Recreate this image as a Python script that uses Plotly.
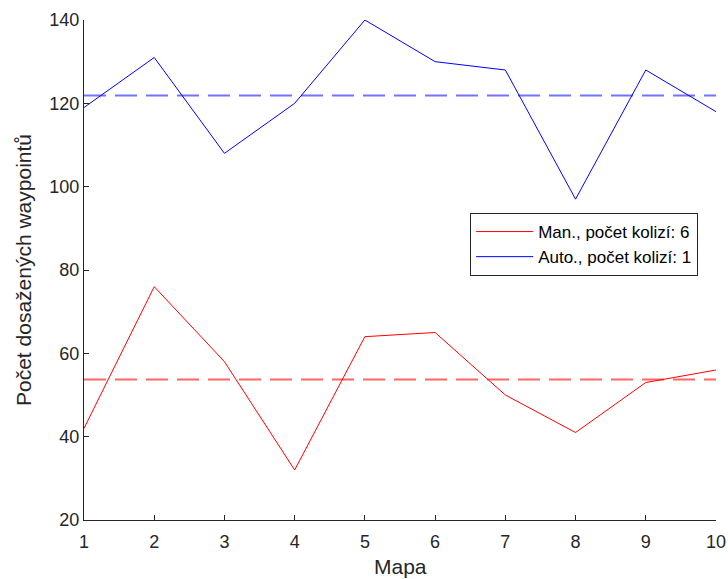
import plotly.graph_objects as go

maps = [1, 2, 3, 4, 5, 6, 7, 8, 9, 10]
manual = [42, 76, 58, 32, 64, 65, 50, 41, 53, 56]
auto = [119, 131, 108, 120, 140, 130, 128, 97, 128, 118]
manual_label = "Man., počet kolizí: 6"
auto_label = "Auto., počet kolizí: 1"

manual_mean = sum(manual) / len(manual)
auto_mean = sum(auto) / len(auto)

axis_color = "#262626"
font_family = "Liberation Sans, Arial, sans-serif"

fig = go.Figure()
fig.add_trace(go.Scatter(x=maps, y=manual, mode="lines", name=manual_label,
                         line=dict(color="#ff0000", width=1)))
fig.add_trace(go.Scatter(x=maps, y=auto, mode="lines", name=auto_label,
                         line=dict(color="#0000ff", width=1)))
fig.add_trace(go.Scatter(x=[maps[0], maps[-1]], y=[manual_mean, manual_mean], mode="lines",
                         showlegend=False,
                         line=dict(color="rgba(255,0,0,0.6)", width=2, dash="22px,9px")))
fig.add_trace(go.Scatter(x=[maps[0], maps[-1]], y=[auto_mean, auto_mean], mode="lines",
                         showlegend=False,
                         line=dict(color="rgba(0,0,255,0.55)", width=2, dash="22px,9px")))

# axis titles placed as annotations for exact positioning
fig.add_annotation(text="Mapa", xref="paper", yref="paper", x=0.5, y=0,
                   yshift=-46, xanchor="center", yanchor="middle", showarrow=False,
                   font=dict(size=21, color=axis_color))
fig.add_annotation(text="Počet dosažených waypointů", xref="paper", yref="paper",
                   x=0, y=0.5, xshift=-61, xanchor="center", yanchor="middle",
                   textangle=-90, showarrow=False, font=dict(size=21, color=axis_color))

fig.update_layout(
    width=728, height=579,
    margin=dict(l=84, r=12, t=20, b=59),
    paper_bgcolor="white", plot_bgcolor="white",
    font=dict(family=font_family, color=axis_color, size=18),
    legend=dict(x=0.611, y=0.614, xanchor="left", yanchor="top",
                bgcolor="white", bordercolor=axis_color, borderwidth=1,
                itemwidth=57,
                font=dict(size=17, color="#000000"), tracegroupgap=0),
    xaxis=dict(range=[1, 10], tickvals=maps, ticks="inside", ticklen=5,
               tickcolor=axis_color, showline=True, linecolor=axis_color, linewidth=1,
               showgrid=False, zeroline=False, tickfont=dict(size=18), automargin=False,
               ticklabelstandoff=5),
    yaxis=dict(range=[20, 140], tickvals=[20, 40, 60, 80, 100, 120, 140], ticks="inside",
               ticklen=5, tickcolor=axis_color, showline=True, linecolor=axis_color,
               linewidth=1, showgrid=False, zeroline=False, tickfont=dict(size=18),
               automargin=False),
)

fig.write_html("out.html")
